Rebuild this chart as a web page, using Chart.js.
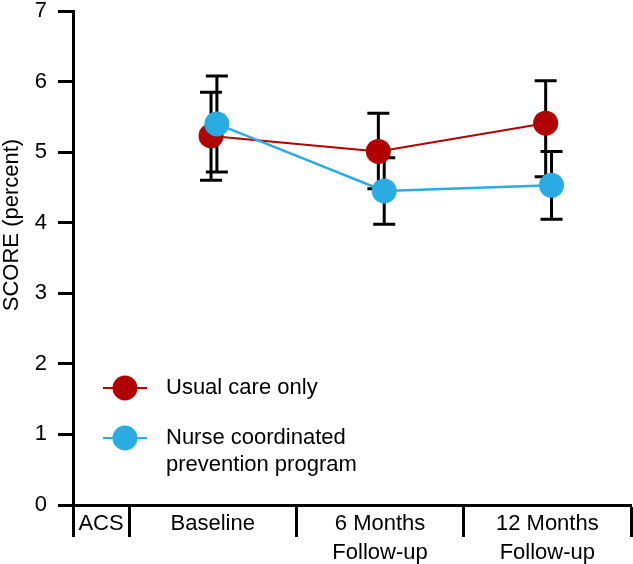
<!DOCTYPE html>
<html>
<head>
<meta charset="utf-8">
<script src="https://cdn.jsdelivr.net/npm/chart.js@4.4.0/dist/chart.umd.min.js"></script>
<style>
  html, body { margin: 0; padding: 0; background: #fff; }
  #wrap { width: 633px; height: 564px; position: relative; }
</style>
</head>
<body>
<div id="wrap"><canvas id="grafico"></canvas></div>
<script>
// categorias do eixo x (ACS e' uma coluna estreita)
const categorias = ['ACS', 'Baseline', ['6 Months', 'Follow-up'], ['12 Months', 'Follow-up']];
const yTicks = [0, 1, 2, 3, 4, 5, 6, 7];
const yTitulo = 'SCORE (percent)';

// Usual care only
const usualLabel = ['Usual care only'];
const usualMedia = [5.23, 5.01, 5.41];
const usualSup = [5.85, 5.55, 6.01];
const usualInf = [4.60, 4.48, 4.65];

// Nurse coordinated prevention program
const nurseLabel = ['Nurse coordinated', 'prevention program'];
const nurseMedia = [5.40, 4.45, 4.53];
const nurseSup = [6.08, 4.92, 5.01];
const nurseInf = [4.72, 3.98, 4.05];

const fonte = '"Liberation Sans", Arial, Helvetica, sans-serif';
const vermelho = '#b00000';
const azul = '#2aace2';

// largura relativa da coluna ACS (as outras tem largura 1)
const larguraACS = 0.335;
const separadores = [0, larguraACS, larguraACS + 1, larguraACS + 2, larguraACS + 3];
const centros = [larguraACS / 2, larguraACS + 0.5, larguraACS + 1.5, larguraACS + 2.5];

function pontos(medias, desloc) {
    return medias.map((v, i) => ({ x: centros[i + 1] + desloc, y: v }));
}

function zerarPadding(scale) {
    scale.paddingTop = 0;
    scale.paddingBottom = 0;
    scale.paddingLeft = 0;
    scale.paddingRight = 0;
}

const barrasErro = {
    id: 'barrasErro',
    beforeDatasetsDraw(chart) {
        const ctx = chart.ctx;
        const yS = chart.scales.y;
        ctx.save();
        ctx.strokeStyle = '#000';
        ctx.lineWidth = 3;
        chart.data.datasets.forEach((ds, di) => {
            const meta = chart.getDatasetMeta(di);
            meta.data.forEach((pt, i) => {
                const x = pt.x;
                const yTop = yS.getPixelForValue(ds.superior[i]);
                const yBot = yS.getPixelForValue(ds.inferior[i]);
                ctx.beginPath();
                ctx.moveTo(x, yTop);
                ctx.lineTo(x, yBot);
                ctx.moveTo(x - 11, yTop);
                ctx.lineTo(x + 11, yTop);
                ctx.moveTo(x - 11, yBot);
                ctx.lineTo(x + 11, yBot);
                ctx.stroke();
            });
        });
        ctx.restore();
    }
};

const extras = {
    id: 'extras',
    afterDraw(chart) {
        const ctx = chart.ctx;
        ctx.save();
        // titulo do eixo y
        ctx.font = '22px ' + fonte;
        ctx.fillStyle = '#000';
        ctx.textAlign = 'center';
        ctx.textBaseline = 'middle';
        ctx.translate(12, 225);
        ctx.rotate(-Math.PI / 2);
        ctx.fillText(yTitulo, 0, 0);
        ctx.restore();

        // legenda
        ctx.save();
        ctx.font = '22px ' + fonte;
        ctx.textAlign = 'left';
        ctx.textBaseline = 'middle';
        const itens = [chart.data.datasets[1], chart.data.datasets[0]];
        let y = 388;
        itens.forEach(ds => {
            ctx.strokeStyle = ds.borderColor;
            ctx.lineWidth = 2;
            ctx.beginPath();
            ctx.moveTo(103, y);
            ctx.lineTo(147, y);
            ctx.stroke();
            ctx.fillStyle = ds.backgroundColor;
            ctx.beginPath();
            ctx.arc(125, y, 12.5, 0, Math.PI * 2);
            ctx.fill();
            ctx.fillStyle = '#000';
            ds.legenda.forEach((linha, k) => {
                ctx.fillText(linha, 166, y + k * 27);
            });
            y += 50;
        });
        ctx.restore();
    }
};

const meuGrafico = new Chart(document.getElementById('grafico'), {
    type: 'line',
    data: {
        datasets: [
            {
                label: nurseLabel.join(' '),
                legenda: nurseLabel,
                data: pontos(nurseMedia, 0.025),
                superior: nurseSup,
                inferior: nurseInf,
                borderColor: azul,
                backgroundColor: azul,
                borderWidth: 2.5,
                pointRadius: 12.5,
                pointBorderWidth: 0,
                pointBackgroundColor: azul,
                order: 0
            },
            {
                label: usualLabel.join(' '),
                legenda: usualLabel,
                data: pontos(usualMedia, -0.01),
                superior: usualSup,
                inferior: usualInf,
                borderColor: vermelho,
                backgroundColor: vermelho,
                borderWidth: 2,
                pointRadius: 12.5,
                pointBorderWidth: 0,
                pointBackgroundColor: vermelho,
                order: 1
            }
        ]
    },
    options: {
        responsive: true,
        maintainAspectRatio: false,
        animation: false,
        layout: { autoPadding: false, padding: { top: 11, right: 2, left: 0, bottom: 0 } },
        plugins: {
            legend: { display: false },
            tooltip: { enabled: false }
        },
        scales: {
            x: {
                type: 'linear',
                min: 0,
                max: larguraACS + 3,
                afterBuildTicks(scale) {
                    const valores = separadores.concat(centros).sort((a, b) => a - b);
                    scale.ticks = valores.map(v => ({ value: v }));
                },
                afterFit(scale) {
                    scale.height = 59;
                    zerarPadding(scale);
                },
                border: { display: true, color: '#000', width: 3 },
                grid: {
                    drawOnChartArea: false,
                    drawTicks: true,
                    tickLength: 32,
                    tickWidth: 3,
                    tickColor: ctx => {
                        const v = ctx.tick ? ctx.tick.value : null;
                        return separadores.some(s => Math.abs(s - v) < 1e-6) ? '#000' : 'rgba(0,0,0,0)';
                    }
                },
                ticks: {
                    autoSkip: false,
                    maxRotation: 0,
                    minRotation: 0,
                    padding: -27,
                    color: '#000',
                    font: { family: fonte, size: 22, lineHeight: 1.3 },
                    callback: function (v) {
                        const i = centros.findIndex(c => Math.abs(c - v) < 1e-6);
                        return i >= 0 ? categorias[i] : '';
                    }
                }
            },
            y: {
                min: 0,
                max: 7,
                afterBuildTicks(scale) {
                    scale.ticks = yTicks.map(v => ({ value: v }));
                },
                afterFit(scale) {
                    scale.width = 73;
                    zerarPadding(scale);
                },
                border: { display: true, color: '#000', width: 3 },
                grid: {
                    drawOnChartArea: false,
                    drawTicks: true,
                    tickLength: 15,
                    tickWidth: 3,
                    tickColor: '#000'
                },
                ticks: {
                    padding: 11,
                    color: '#000',
                    font: { family: fonte, size: 22 }
                }
            }
        }
    },
    plugins: [barrasErro, extras]
});
</script>
</body>
</html>
